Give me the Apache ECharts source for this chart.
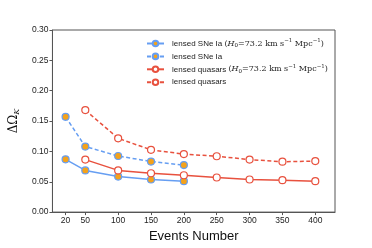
<!DOCTYPE html>
<html><head><meta charset="utf-8">
<script src="https://cdn.jsdelivr.net/npm/echarts@6/dist/echarts.min.js"></script>
<style>html,body{margin:0;padding:0;background:#fff}#c{width:372px;height:248px}</style>
</head><body><div id="c"></div>
<script>
const xTicks = [20, 50, 100, 150, 200, 250, 300, 350, 400];
const snX = [20, 50, 100, 150, 200];
const qsoX = [50, 100, 150, 200, 250, 300, 350, 400];
const snH0 = [0.087, 0.0687, 0.0585, 0.0537, 0.051];
const snFree = [0.157, 0.108, 0.0924, 0.0833, 0.0774];
const qsoH0 = [0.0865, 0.0687, 0.064, 0.0607, 0.057, 0.0537, 0.0526, 0.051];
const qsoFree = [0.168, 0.1215, 0.1026, 0.0956, 0.092, 0.0865, 0.083, 0.084];
const names = ['lensed SNe Ia H0', 'lensed SNe Ia', 'lensed quasars H0', 'lensed quasars'];

const blue = '#669ef2', orange = '#f4a21b', red = '#e8513e';
const pair = (xs, ys) => xs.map((x, i) => [x, ys[i]]);
const font = 'Liberation Sans, Arial, sans-serif';

function series(name, xs, ys, color, dashed, filled) {
  return {
    name, type: 'line', data: pair(xs, ys),
    symbol: 'circle', symbolSize: 7,
    lineStyle: { color, width: 1.5, type: dashed ? [4, 2.5] : 'solid' },
    itemStyle: { color: filled ? orange : '#fff', borderColor: color, borderWidth: 1.2 },
    emphasis: { disabled: true }, animation: false
  };
}

const chart = echarts.init(document.getElementById('c'));
chart.setOption({
  animation: false,
  grid: { left: 47, right: 37, top: 30, bottom: 32, show: true, borderColor: '#555', borderWidth: 1 },
  legend: {
    left: 141, top: 33, orient: 'vertical', itemGap: 2.4, itemWidth: 17, itemHeight: 7,
    textStyle: { fontSize: 8, fontFamily: font, color: '#222', lineHeight: 10, padding: [0, 0, 0, 3],
      rich: {
        t: { fontSize: 8, fontFamily: font, color: '#222', lineHeight: 10 },
        m: { fontFamily: 'DejaVu Serif', fontSize: 8, color: '#222', lineHeight: 10 },
        i: { fontFamily: 'DejaVu Serif', fontStyle: 'italic', fontSize: 8, color: '#222', lineHeight: 10 },
        sub: { fontFamily: 'DejaVu Serif', fontSize: 5.5, color: '#222', padding: [4, 0, 0, 0], lineHeight: 10 },
        sup: { fontFamily: 'DejaVu Serif', fontSize: 5.5, color: '#222', padding: [0, 0, 5, 0], lineHeight: 10 }
      } },
    formatter: n => {
      const m = '{m|(}{i|H}{sub|0}{m|=73.2 km s}{sup|−1}{m| Mpc}{sup|−1}{m|)}';
      if (n === names[0]) return '{t|lensed SNe Ia }' + m;
      if (n === names[2]) return '{t|lensed quasars }' + m;
      return '{t|' + n + '}';
    },
    data: names
  },
  xAxis: {
    type: 'value', min: 0, max: 430,
    name: 'Events Number', nameLocation: 'middle', nameGap: 17,
    nameTextStyle: { fontSize: 13, fontFamily: font, color: '#111' },
    axisLine: { lineStyle: { color: '#555' } },
    axisTick: { show: true, inside: false, length: 3, lineStyle: { color: '#555' }, customValues: xTicks },
    axisLabel: { fontSize: 8.5, fontFamily: font, color: '#222', margin: 4, customValues: xTicks },
    splitLine: { show: false }
  },
  yAxis: {
    type: 'value', min: 0, max: 0.30, interval: 0.05,
    name: '{a|ΔΩ}{s|K}', nameLocation: 'middle', nameGap: 28, nameRotate: 90,
    nameTextStyle: { rich: {
      a: { fontFamily: 'DejaVu Serif', fontSize: 12, color: '#111' },
      s: { fontFamily: 'DejaVu Serif', fontStyle: 'italic', fontSize: 8, color: '#111', padding: [6, 0, 0, 0] }
    } },
    axisLine: { show: true, lineStyle: { color: '#555' } },
    axisTick: { show: true, inside: false, length: 3, lineStyle: { color: '#555' } },
    axisLabel: { fontSize: 8.5, fontFamily: font, color: '#222', margin: 4, formatter: v => v.toFixed(2) },
    splitLine: { show: false }
  },
  series: [
    series(names[0], snX, snH0, blue, false, true),
    series(names[1], snX, snFree, blue, true, true),
    series(names[2], qsoX, qsoH0, red, false, false),
    series(names[3], qsoX, qsoFree, red, true, false)
  ]
});
</script></body></html>
